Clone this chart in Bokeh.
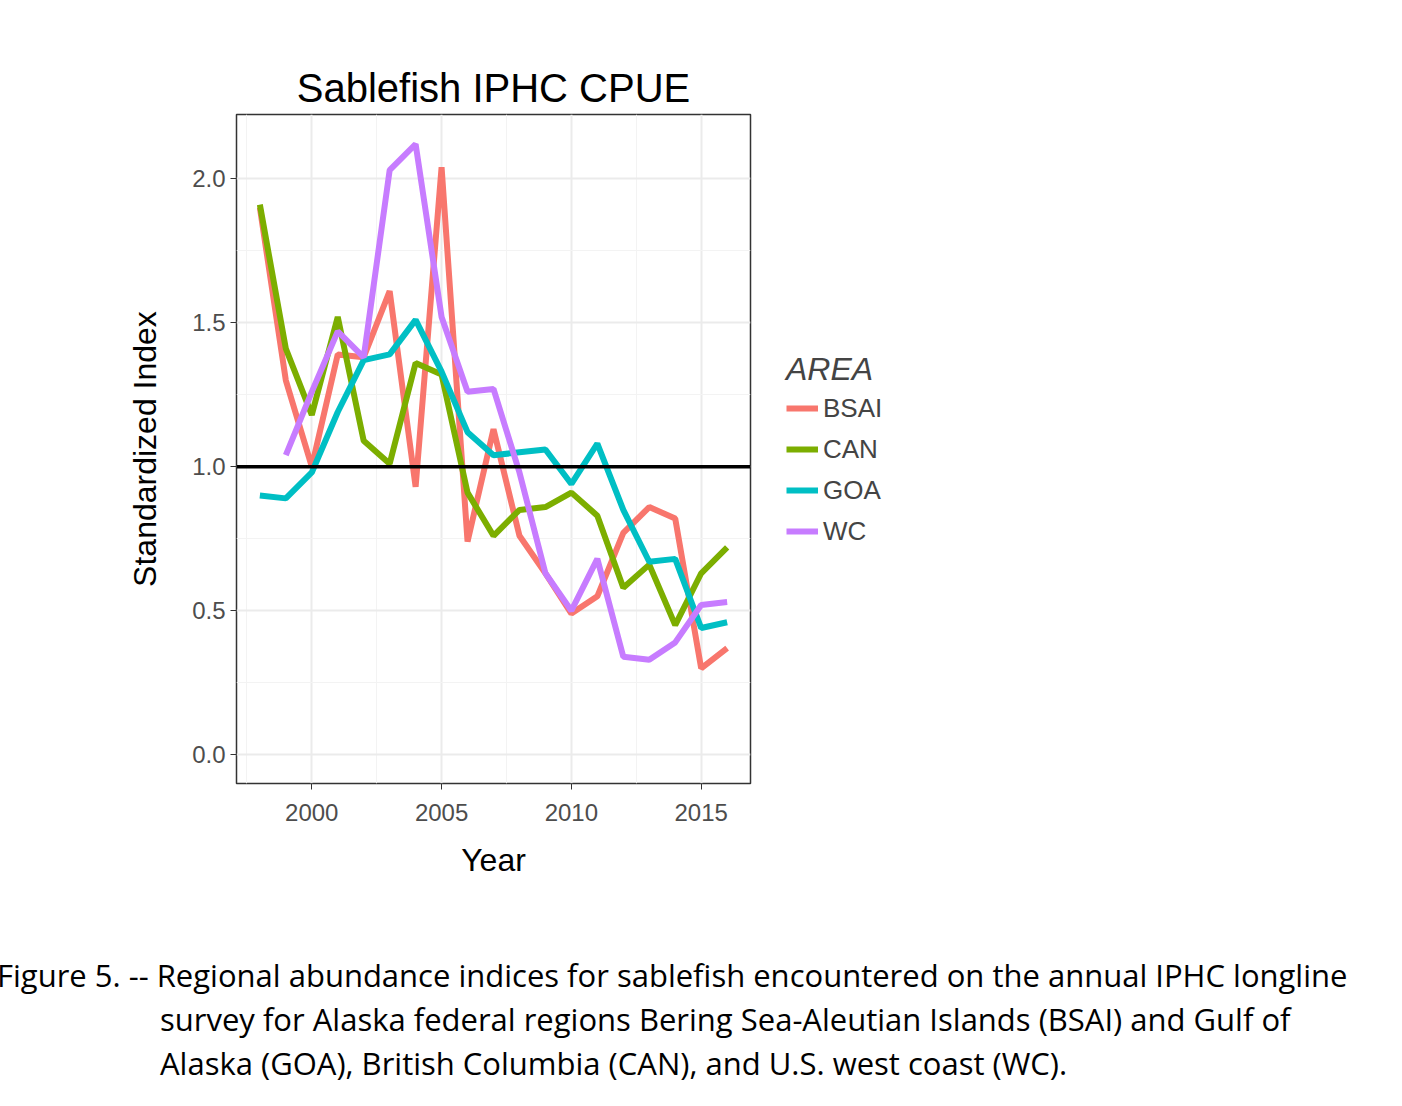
from bokeh.models import FixedTicker, Span, Legend, LegendItem, Div
from bokeh.plotting import figure
from bokeh.layouts import column
from bokeh.embed import file_html
from bokeh.resources import INLINE

years = list(range(1998, 2017))
bsai = [1.90, 1.30, 1.00, 1.39, 1.38, 1.61, 0.93, 2.04, 0.74, 1.13, 0.76, 0.63, 0.49, 0.55, 0.77, 0.86, 0.82, 0.30, 0.37]
can = [1.91, 1.41, 1.18, 1.52, 1.09, 1.01, 1.36, 1.32, 0.91, 0.76, 0.85, 0.86, 0.91, 0.83, 0.58, 0.66, 0.45, 0.63, 0.72]
goa = [0.90, 0.89, 0.98, 1.19, 1.37, 1.39, 1.51, 1.33, 1.12, 1.04, 1.05, 1.06, 0.94, 1.08, 0.85, 0.67, 0.68, 0.44, 0.46]
wc_years = list(range(1999, 2017))
wc = [1.04, 1.26, 1.47, 1.38, 2.03, 2.12, 1.52, 1.26, 1.27, 0.98, 0.63, 0.50, 0.68, 0.34, 0.33, 0.39, 0.52, 0.53]

series = [("BSAI", years, bsai, "#F8766D"), ("CAN", years, can, "#7CAE00"),
          ("GOA", years, goa, "#00BFC4"), ("WC", wc_years, wc, "#C77CFF")]

font = "Liberation Sans"
p = figure(width=1386, height=880, x_range=(1997.1, 2016.9), y_range=(-0.1, 2.223),
           output_backend="svg", toolbar_location=None,
           min_border_left=236, min_border_right=264, min_border_top=114, min_border_bottom=90,
           title="Sablefish IPHC CPUE")
p.title.text_font = font
p.title.text_font_size = "40px"
p.title.text_font_style = "normal"
p.title.text_color = "black"
p.title.align = "center"
p.title.offset = 0

p.xaxis.ticker = FixedTicker(ticks=[2000, 2005, 2010, 2015], minor_ticks=[1997.5, 2002.5, 2007.5, 2012.5])
p.yaxis.ticker = FixedTicker(ticks=[0, 0.5, 1.0, 1.5, 2.0], minor_ticks=[0.25, 0.75, 1.25, 1.75])
p.yaxis.major_label_overrides = {0: "0.0", 0.5: "0.5", 1.0: "1.0", 1.5: "1.5", 2.0: "2.0"}
p.xaxis.axis_label = "Year"
p.yaxis.axis_label = "Standardized Index"
for ax in (p.xaxis, p.yaxis):
    ax.axis_label_text_font = font
    ax.axis_label_text_font_size = "32px"
    ax.axis_label_text_font_style = "normal"
    ax.axis_label_text_color = "black"
    ax.major_label_text_font = font
    ax.major_label_text_font_size = "24px"
    ax.major_label_text_color = "#4d4d4d"
    ax.axis_line_color = None
    ax.major_tick_line_color = "#333333"
    ax.major_tick_in = 0
    ax.major_tick_out = 6
    ax.minor_tick_line_color = None
p.xaxis.major_label_standoff = 14
p.xaxis.axis_label_standoff = 18
p.yaxis.axis_label_standoff = 26
p.outline_line_color = "#333333"
p.outline_line_width = 1.5
for g in (p.xgrid, p.ygrid):
    g.grid_line_color = "#ebebeb"
    g.grid_line_width = 2
    g.minor_grid_line_color = "#f3f3f3"
    g.minor_grid_line_width = 1

items = []
for name, xs, ys, col in series:
    r = p.line(xs, ys, line_color=col, line_width=6)
    items.append(LegendItem(label=name, renderers=[r]))

p.add_layout(Span(location=1.0, dimension="width", line_color="black", line_width=3.5))

legend = Legend(items=items, location="left", title="AREA", margin=36,
                title_text_font=font, title_text_font_size="32px",
                label_text_font=font, label_text_font_size="26px",
                glyph_width=32, glyph_height=30, label_height=30, spacing=10,
                background_fill_alpha=0, border_line_color=None)
p.add_layout(legend, "right")

caption = Div(width=1400, text=(
    "<div style='font-family:\"Open Sans\";font-size:31px;line-height:44px;white-space:nowrap;"
    "margin-left:-8px;margin-top:68px;color:#000'>"
    "Figure 5. -- Regional abundance indices for sablefish encountered on the annual IPHC longline<br>"
    "<span style='padding-left:163px'>survey for Alaska federal regions Bering Sea-Aleutian Islands (BSAI) and Gulf of</span><br>"
    "<span style='padding-left:163px'>Alaska (GOA), British Columbia (CAN), and U.S. west coast (WC).</span></div>"))

open("out.html", "w").write(file_html(column(p, caption), INLINE))
